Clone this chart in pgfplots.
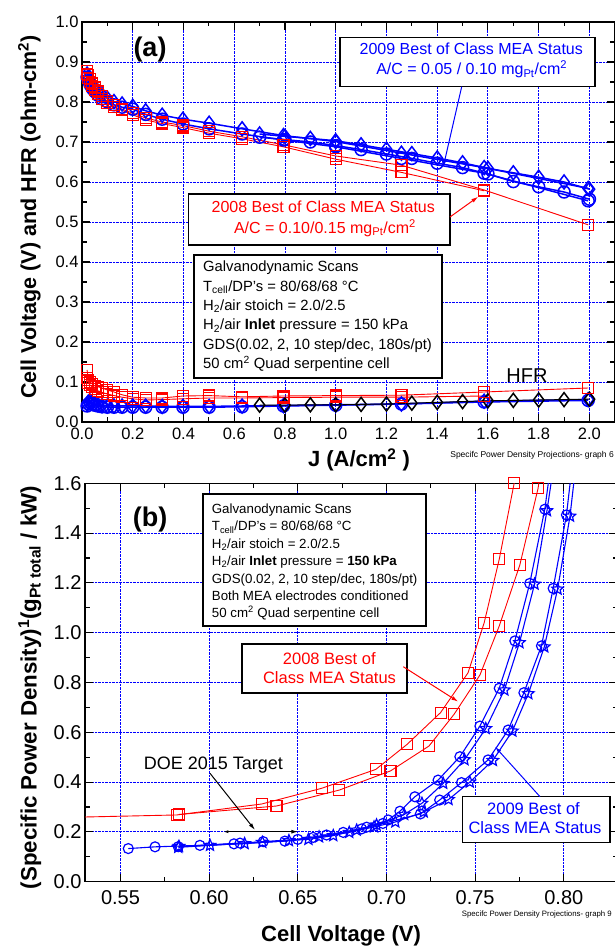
\documentclass[border=0pt]{standalone}
\usepackage{fontspec}
\setmainfont{Liberation Sans}
\usepackage{pgfplots}
\pgfplotsset{compat=1.18}
\usetikzlibrary{arrows.meta}

\definecolor{oblue}{RGB}{0,0,255}
\definecolor{ored}{RGB}{255,0,0}

% outlined five point star
\pgfdeclareplotmark{ostar}{%
  \pgfpathmoveto{\pgfpointpolar{90}{\pgfplotmarksize}}%
  \pgfpathlineto{\pgfpointpolar{126}{0.45\pgfplotmarksize}}%
  \pgfpathlineto{\pgfpointpolar{162}{\pgfplotmarksize}}%
  \pgfpathlineto{\pgfpointpolar{198}{0.45\pgfplotmarksize}}%
  \pgfpathlineto{\pgfpointpolar{234}{\pgfplotmarksize}}%
  \pgfpathlineto{\pgfpointpolar{270}{0.45\pgfplotmarksize}}%
  \pgfpathlineto{\pgfpointpolar{306}{\pgfplotmarksize}}%
  \pgfpathlineto{\pgfpointpolar{342}{0.45\pgfplotmarksize}}%
  \pgfpathlineto{\pgfpointpolar{18}{\pgfplotmarksize}}%
  \pgfpathlineto{\pgfpointpolar{54}{0.45\pgfplotmarksize}}%
  \pgfpathclose\pgfusepathqstroke}

\pgfplotsset{
  panel/.style={
    scale only axis, clip=true,
    tick align=inside,
    major tick length=8pt, minor tick length=4.5pt,
    axis line style={line width=1.4pt},
    tick style={black, line width=1.1pt},
    xmajorgrids, ymajorgrids,
    major grid style={oblue, densely dotted, line width=0.9pt},
    /pgf/number format/assume math mode=true,
    scaled ticks=false,
  },
  redA/.style={ored, line width=0.9pt, mark=square, mark size=5.5pt, mark options={line width=1.2pt}},
  bluD/.style={oblue, line width=1.5pt, mark=diamond, mark size=7pt, mark options={line width=1.5pt}},
  bluC/.style={oblue, line width=1.5pt, mark=o, mark size=6pt, mark options={line width=1.5pt}},
  redB/.style={ored, line width=0.9pt, mark=square, mark size=5.5pt, mark options={line width=1.1pt}},
  bluCb/.style={oblue, line width=1.1pt, mark=o, mark size=5pt, mark options={line width=1.2pt}},
  bluSb/.style={oblue, line width=1.1pt, mark=ostar, mark size=6pt, mark options={line width=1.2pt}},
}

\begin{document}
\begin{tikzpicture}
\useasboundingbox (0pt,0pt) rectangle (614pt,946pt);

% ---------------- panel (a)
\begin{axis}[panel,
  at={(82pt,524pt)}, anchor=south west,
  width=532.8pt, height=400pt,
  xmin=0, xmax=2.1, ymin=0, ymax=1,
  xtick={0,0.2,0.4,0.6,0.8,1.0,1.2,1.4,1.6,1.8,2.0},
  ytick={0,0.1,0.2,0.3,0.4,0.5,0.6,0.7,0.8,0.9,1.0},
  minor x tick num=1, minor y tick num=1,
  tick label style={font=\fontsize{16.5}{18}\selectfont},
  xticklabel shift=2.5pt,
  xticklabel style={/pgf/number format/.cd, fixed, fixed zerofill, precision=1},
  yticklabel style={/pgf/number format/.cd, fixed, fixed zerofill, precision=1},
]
% 2009 polarisation curves
\addplot[bluD] coordinates {(0.020,0.870)(0.025,0.862)(0.032,0.853)(0.040,0.844)(0.050,0.836)(0.063,0.827)(0.079,0.818)(0.100,0.809)(0.126,0.801)(0.158,0.795)(0.200,0.789)(0.251,0.778)(0.316,0.767)(0.398,0.757)(0.501,0.747)(0.631,0.733)(0.794,0.716)(1.000,0.701)(1.259,0.672)(1.585,0.636)(1.995,0.584)};
\addplot[bluC] coordinates {(0.020,0.862)(0.025,0.853)(0.032,0.843)(0.040,0.834)(0.050,0.826)(0.063,0.817)(0.079,0.808)(0.100,0.800)(0.126,0.793)(0.158,0.787)(0.200,0.782)(0.251,0.769)(0.316,0.757)(0.398,0.745)(0.501,0.733)(0.631,0.720)(0.794,0.705)(1.000,0.688)(1.259,0.659)(1.585,0.622)(1.995,0.553)};
\addplot[bluD] coordinates {(0.7,0.720)(0.8,0.714)(0.9,0.709)(1.0,0.703)(1.1,0.693)(1.2,0.682)(1.3,0.671)(1.4,0.660)(1.5,0.648)(1.6,0.634)(1.7,0.623)(1.8,0.612)(1.9,0.600)(2.0,0.582)};
\addplot[bluC] coordinates {(0.7,0.712)(0.8,0.706)(0.9,0.700)(1.0,0.691)(1.1,0.681)(1.2,0.670)(1.3,0.659)(1.4,0.647)(1.5,0.636)(1.6,0.620)(1.7,0.601)(1.8,0.588)(1.9,0.575)(2.0,0.557)};
% 2009 HFR
\addplot[bluD] coordinates {(0.020,0.045)(0.025,0.050)(0.032,0.052)(0.040,0.048)(0.050,0.045)(0.063,0.043)(0.079,0.041)(0.100,0.040)(0.126,0.040)(0.158,0.040)(0.200,0.040)(0.251,0.040)(0.316,0.039)(0.398,0.039)(0.501,0.039)(0.631,0.040)(0.794,0.041)(1.000,0.043)(1.259,0.045)(1.585,0.052)(1.995,0.056)};
\addplot[bluC] coordinates {(0.020,0.040)(0.025,0.045)(0.032,0.048)(0.040,0.045)(0.050,0.042)(0.063,0.040)(0.079,0.038)(0.100,0.037)(0.126,0.037)(0.158,0.037)(0.200,0.037)(0.251,0.037)(0.316,0.037)(0.398,0.037)(0.501,0.037)(0.631,0.038)(0.794,0.040)(1.000,0.042)(1.259,0.045)(1.585,0.050)(1.995,0.054)};
\addplot[bluD, draw=black, line width=1pt] coordinates {(0.7,0.042)(0.8,0.042)(0.9,0.043)(1.0,0.043)(1.1,0.044)(1.2,0.045)(1.3,0.047)(1.4,0.049)(1.5,0.051)(1.6,0.053)(1.7,0.054)(1.8,0.055)(1.9,0.056)(2.0,0.057)};
% 2008 polarisation curves and HFR
\addplot[redA] coordinates {(0.020,0.878)(0.025,0.868)(0.032,0.857)(0.040,0.846)(0.050,0.836)(0.063,0.826)(0.079,0.814)(0.100,0.802)(0.126,0.792)(0.158,0.782)(0.200,0.772)(0.251,0.760)(0.316,0.750)(0.398,0.741)(0.501,0.727)(0.631,0.713)(0.794,0.693)(1.000,0.665)(1.259,0.642)(1.585,0.580)(1.995,0.493)};
\addplot[redA] coordinates {(0.020,0.870)(0.025,0.860)(0.032,0.850)(0.040,0.840)(0.050,0.830)(0.063,0.820)(0.079,0.808)(0.100,0.797)(0.126,0.788)(0.158,0.779)(0.200,0.768)(0.251,0.755)(0.316,0.746)(0.398,0.736)(0.501,0.722)(0.631,0.708)(0.794,0.688)(1.000,0.657)(1.259,0.624)(1.585,0.578)};
\addplot[redA] coordinates {(0.020,0.130)(0.025,0.105)(0.032,0.100)(0.040,0.095)(0.050,0.090)(0.063,0.088)(0.079,0.085)(0.100,0.080)(0.126,0.075)(0.158,0.068)(0.200,0.062)(0.251,0.060)(0.316,0.060)(0.398,0.065)(0.501,0.066)(0.631,0.063)(0.794,0.065)(1.000,0.066)(1.259,0.067)(1.585,0.075)(1.995,0.085)};
\addplot[redA] coordinates {(0.020,0.110)(0.025,0.098)(0.032,0.092)(0.040,0.088)(0.050,0.083)(0.063,0.078)(0.079,0.074)(0.100,0.070)(0.126,0.066)(0.158,0.062)(0.200,0.058)(0.251,0.055)(0.316,0.056)(0.398,0.058)(0.501,0.060)(0.631,0.060)(0.794,0.061)(1.000,0.062)(1.259,0.062)(1.585,0.065)};
\end{axis}

% ---------------- panel (b)
\begin{axis}[panel,
  at={(85pt,64.3pt)}, anchor=south west,
  width=532pt, height=398.4pt,
  xmin=0.53, xmax=0.83, ymin=0, ymax=1.6,
  xtick={0.55,0.60,0.65,0.70,0.75,0.80},
  ytick={0,0.2,0.4,0.6,0.8,1.0,1.2,1.4,1.6},
  minor x tick num=1, minor y tick num=1,
  tick label style={font=\fontsize{20}{22}\selectfont},
  xticklabel shift=5pt,
  xticklabel style={/pgf/number format/.cd, fixed, fixed zerofill, precision=2},
  yticklabel style={/pgf/number format/.cd, fixed, fixed zerofill, precision=1},
]
\addplot[bluCb] coordinates {(0.5544,0.133)(0.5695,0.140)(0.5948,0.146)(0.6174,0.155)(0.6427,0.163)(0.6587,0.178)(0.6756,0.198)(0.6888,0.219)(0.7010,0.248)(0.7076,0.283)(0.7160,0.341)(0.7291,0.408)(0.7414,0.502)(0.7527,0.625)(0.7636,0.777)(0.7724,0.967)(0.7808,1.198)(0.7893,1.496)(0.7950,1.800)};
\addplot[bluSb] coordinates {(0.5826,0.138)(0.6005,0.146)(0.6300,0.158)(0.6560,0.170)(0.6700,0.185)(0.6832,0.207)(0.6944,0.228)(0.7100,0.270)(0.7200,0.315)(0.7320,0.395)(0.7440,0.490)(0.7560,0.615)(0.7665,0.770)(0.7750,0.960)(0.7835,1.195)(0.7905,1.490)(0.7970,1.800)};
\addplot[bluCb] coordinates {(0.5826,0.1406)(0.6140,0.152)(0.6305,0.161)(0.6500,0.170)(0.6662,0.1875)(0.6860,0.212)(0.6980,0.234)(0.7191,0.272)(0.7300,0.328)(0.7423,0.398)(0.7573,0.489)(0.7686,0.609)(0.7775,0.759)(0.7874,0.947)(0.7940,1.178)(0.8015,1.473)(0.8060,1.750)};
\addplot[bluSb] coordinates {(0.5830,0.142)(0.6200,0.153)(0.6450,0.165)(0.6620,0.180)(0.6790,0.198)(0.6930,0.220)(0.7050,0.240)(0.7210,0.280)(0.7350,0.330)(0.7470,0.400)(0.7600,0.487)(0.7710,0.605)(0.7800,0.755)(0.7890,0.943)(0.7965,1.175)(0.8035,1.468)(0.8080,1.750)};
\addplot[redB] coordinates {(0.493,0.254)(0.5817,0.268)(0.6296,0.312)(0.6634,0.375)(0.694,0.451)(0.7117,0.552)(0.7305,0.679)(0.746,0.839)(0.7551,1.040)(0.7636,1.295)(0.772,1.600)(0.779,2.000)};
\addplot[redB] coordinates {(0.5830,0.270)(0.638,0.304)(0.6734,0.368)(0.7023,0.445)(0.724,0.545)(0.7382,0.673)(0.7527,0.830)(0.7636,1.027)(0.7752,1.272)(0.7855,1.580)(0.792,1.900)};
\end{axis}

% ---------------- axis titles
\node[rotate=90, anchor=south, inner sep=0pt, font=\bfseries\fontsize{21.5}{24}\selectfont] at (41pt,729pt) {Cell Voltage (V) and HFR (ohm-cm\textsuperscript{2})};
\node[anchor=base, inner sep=0pt, font=\bfseries\fontsize{22}{24}\selectfont] at (359pt,479pt) {J (A/cm\textsuperscript{2} )};
\node[rotate=90, anchor=south, inner sep=0pt, font=\bfseries\fontsize{22.3}{24}\selectfont] at (41.5pt,258.5pt) {(Specific Power Density)\textsuperscript{1}(g\textsubscript{Pt total} / kW)};
\node[anchor=base, inner sep=0pt, font=\bfseries\fontsize{22}{24}\selectfont] at (341pt,5pt) {Cell Voltage (V)};
\node[anchor=base east, inner sep=0pt, font=\fontsize{8.5}{10}\selectfont] at (614pt,488pt) {Specifc Power Density Projections- graph 6};
\node[anchor=base east, inner sep=0pt, font=\fontsize{7.8}{9}\selectfont] at (612pt,30pt) {Specifc Power Density Projections- graph 9};

% ---------------- annotations (a)
\node[font=\bfseries\fontsize{27}{30}\selectfont] at (150pt,896pt) {(a)};
\draw[black, line width=1.3pt, fill=white] (340pt,908.3pt) rectangle (595pt,859.3pt);
\node[anchor=base, text=oblue, font=\fontsize{16}{18}\selectfont] at (471.3pt,891pt) {2009 Best of Class MEA Status};
\node[anchor=base, text=oblue, font=\fontsize{16}{18}\selectfont] at (471.7pt,871pt) {A/C = 0.05 / 0.10 mg\textsubscript{Pt}/cm\textsuperscript{2}};
\draw[oblue, line width=1pt, -{Latex[length=7pt,width=4pt]}] (461.7pt,859.3pt) -- (443.3pt,779.3pt);
\draw[black, line width=1.3pt, fill=white] (188.3pt,752pt) rectangle (450pt,701pt);
\node[anchor=base, text=ored, font=\fontsize{16}{18}\selectfont] at (323.3pt,733.7pt) {2008 Best of Class MEA Status};
\node[anchor=base, text=ored, font=\fontsize{16}{18}\selectfont] at (325pt,712.7pt) {A/C = 0.10/0.15 mg\textsubscript{Pt}/cm\textsuperscript{2}};
\draw[ored, line width=1pt, -{Latex[length=7pt,width=4pt]}] (450pt,729pt) -- (478.3pt,749.3pt);
\draw[black, line width=1.3pt, fill=white] (194pt,691pt) rectangle (442pt,568pt);
\begin{scope}[every node/.style={anchor=base west, inner sep=0pt, font=\fontsize{14.8}{16}\selectfont}]
\node at (203pt,674pt) {Galvanodynamic Scans};
\node at (203pt,654.7pt) {T\textsubscript{cell}/DP's = 80/68/68 °C};
\node at (203pt,635.4pt) {H\textsubscript{2}/air stoich = 2.0/2.5};
\node at (203pt,616.1pt) {H\textsubscript{2}/air \textbf{Inlet} pressure = 150 kPa};
\node at (203pt,596.8pt) {GDS(0.02, 2, 10 step/dec, 180s/pt)};
\node at (203pt,577.5pt) {50 cm\textsuperscript{2} Quad serpentine cell};
\end{scope}
\node[font=\fontsize{20}{22}\selectfont] at (527pt,570pt) {HFR};

% ---------------- annotations (b)
\node[font=\bfseries\fontsize{27}{30}\selectfont] at (150pt,426pt) {(b)};
\draw[black, line width=1.3pt, fill=white] (203pt,452pt) rectangle (426pt,320pt);
\begin{scope}[every node/.style={anchor=base west, inner sep=0pt, font=\fontsize{13.3}{15}\selectfont}]
\node at (211.7pt,432.4pt) {Galvanodynamic Scans};
\node at (211.7pt,415pt) {T\textsubscript{cell}/DP's = 80/68/68 °C};
\node at (211.7pt,397.6pt) {H\textsubscript{2}/air stoich = 2.0/2.5};
\node at (211.7pt,380.2pt) {H\textsubscript{2}/air \textbf{Inlet} pressure = \textbf{150 kPa}};
\node at (211.7pt,362.8pt) {GDS(0.02, 2, 10 step/dec, 180s/pt)};
\node at (211.7pt,345.4pt) {Both MEA electrodes conditioned};
\node at (211.7pt,328pt) {50 cm\textsuperscript{2} Quad serpentine cell};
\end{scope}
\draw[black, line width=1.3pt, fill=white] (242pt,302pt) rectangle (407pt,253pt);
\node[anchor=base, text=ored, font=\fontsize{16.5}{18}\selectfont] at (329.3pt,281pt) {2008 Best of};
\node[anchor=base, text=ored, font=\fontsize{16.5}{18}\selectfont] at (329.5pt,262.7pt) {Class MEA Status};
\draw[ored, line width=1pt, -{Latex[length=7pt,width=4pt]}] (403.3pt,279.3pt) -- (458.3pt,244.3pt);
\node[anchor=base, font=\fontsize{18}{20}\selectfont] at (213.3pt,176.7pt) {DOE 2015 Target};
\draw[black, line width=1pt, -{Latex[length=7pt,width=4pt]}] (210pt,172.7pt) -- (255pt,116pt);
\draw[black, line width=1.2pt, {Latex[length=5pt,width=3pt]}-{Latex[length=7pt,width=4pt]}] (223.3pt,114.3pt) -- (298.3pt,114.3pt);
\draw[black, line width=1.3pt, fill=white] (462.3pt,149.3pt) rectangle (610pt,103.3pt);
\node[anchor=base, text=oblue, font=\fontsize{16.5}{18}\selectfont] at (533.5pt,131pt) {2009 Best of};
\node[anchor=base, text=oblue, font=\fontsize{16.5}{18}\selectfont] at (535pt,112.7pt) {Class MEA Status};
\draw[oblue, line width=1pt, -{Latex[length=7pt,width=4pt]}] (540pt,149.3pt) -- (495pt,199.3pt);
\end{tikzpicture}
\end{document}
